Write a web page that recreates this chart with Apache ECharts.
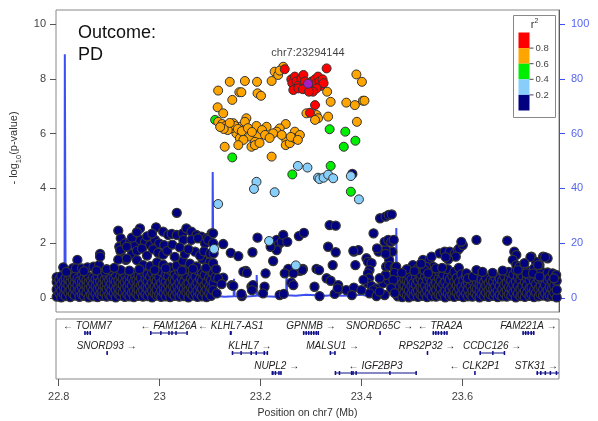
<!DOCTYPE html>
<html><head><meta charset="utf-8">
<script src="https://cdn.jsdelivr.net/npm/echarts@6/dist/echarts.min.js"></script>
<style>html,body{margin:0;padding:0;background:#fff;}#c{width:598px;height:421px;}</style>
</head><body><div id="c"></div>
<script>
// ---------- DATA ----------
const xTicks = [22.8, 23.0, 23.2, 23.4, 23.6];
const yTicks = [0, 2, 4, 6, 8, 10];
const recombTicks = [0, 20, 40, 60, 80, 100];
const r2Labels = ['0.8', '0.6', '0.4', '0.2'];
const outcomeText = 'Outcome:\nPD';
const leadName = 'chr7:23294144';
const leadSnp = [[23.294144, 7.82]];

// dense low band, columns: [position, values...]
const leftBandCols = [
[22.796,0.05,0.31,0.58,0.76],[22.801,0.18,0.44,0.69],[22.805,0.02,0.27,0.52,0.80],[22.810,0.12,0.38,0.63],
[22.814,0.07,0.33,0.55,0.74],[22.819,0.21,0.47,0.68],[22.823,0.03,0.29,0.60,0.82],[22.828,0.15,0.41,0.66],
[22.832,0.09,0.35,0.57,0.78],[22.837,0.24,0.49,0.71],[22.841,0.04,0.30,0.62],[22.846,0.13,0.39,0.59,0.85],
[22.850,0.08,0.26,0.51,0.73],[22.855,0.19,0.45,0.67],[22.859,0.02,0.34,0.56,0.79],[22.864,0.11,0.40,0.64],
[22.868,0.06,0.28,0.53,0.75],[22.873,0.17,0.43,0.70],[22.877,0.03,0.32,0.58,0.81],[22.882,0.14,0.37,0.61],
[22.886,0.08,0.25,0.50,0.77],[22.891,0.20,0.46,0.68],[22.895,0.05,0.33,0.55,0.83],[22.900,0.12,0.39,0.65],
[22.904,0.07,0.29,0.52,0.74],[22.909,0.18,0.44,0.70],[22.913,0.02,0.31,0.60,0.86],[22.918,0.15,0.36,0.63],
[22.922,0.09,0.27,0.54,0.79],[22.927,0.21,0.48,0.72],[22.931,0.04,0.34,0.58,0.88],[22.936,0.13,0.41,0.66],
[22.940,0.06,0.30,0.55,0.80],[22.945,0.19,0.45,0.71],[22.949,0.03,0.26,0.61,0.90],[22.954,0.16,0.38,0.64],
[22.958,0.08,0.33,0.57,0.83],[22.963,0.22,0.47,0.74],[22.967,0.05,0.29,0.52,0.95],[22.972,0.14,0.40,0.68],
[22.976,0.07,0.35,0.60,0.86],[22.981,0.20,0.44,0.77],[22.985,0.02,0.28,0.56,0.92],[22.990,0.17,0.42,0.69],
[22.994,0.09,0.31,0.62,0.88],[22.999,0.12,0.46,0.75],[23.003,0.04,0.27,0.54,0.97],[23.008,0.18,0.39,0.66],
[23.012,0.06,0.33,0.59,0.84],[23.017,0.21,0.48,0.79],[23.021,0.03,0.30,0.57,1.02],[23.026,0.15,0.43,0.70],
[23.030,0.08,0.36,0.63,0.89],[23.035,0.19,0.45,0.76],[23.039,0.05,0.28,0.55,0.99],[23.044,0.13,0.41,0.68],
[23.048,0.07,0.34,0.60,0.87],[23.053,0.22,0.49,0.81],[23.057,0.02,0.29,0.53,1.05],[23.062,0.16,0.38,0.72],
[23.066,0.09,0.32,0.62,0.92],[23.071,0.18,0.46,0.78],[23.075,0.04,0.27,0.56,1.01],[23.080,0.14,0.40,0.69],
[23.084,0.06,0.35,0.64,0.94],[23.089,0.20,0.47,0.83],[23.093,0.03,0.31,0.58,1.08],[23.098,0.17,0.43,0.74],
[23.102,0.08,0.37,0.65,0.96]
];
const rightBandCols = [
[23.472,0.06,0.33,0.61],[23.476,0.14,0.42,0.78],[23.481,0.03,0.25,0.52],[23.485,0.19,0.47,0.70],
[23.490,0.09,0.36,0.64],[23.494,0.02,0.28,0.57,0.83],[23.499,0.16,0.44,0.68],[23.503,0.07,0.31,0.55],
[23.508,0.21,0.49,0.76],[23.512,0.04,0.27,0.62],[23.517,0.12,0.39,0.71,0.88],[23.521,0.08,0.34,0.58],
[23.526,0.18,0.45,0.80],[23.530,0.03,0.29,0.66],[23.535,0.15,0.41,0.74],[23.539,0.06,0.37,0.60,0.92],
[23.544,0.22,0.48,0.79],[23.548,0.05,0.30,0.56],[23.553,0.13,0.43,0.72,0.98],[23.557,0.09,0.35,0.63],
[23.562,0.19,0.51,0.85],[23.566,0.02,0.26,0.59],[23.571,0.16,0.46,0.77,1.05],[23.575,0.07,0.32,0.67],
[23.580,0.11,0.40,0.81],[23.584,0.04,0.28,0.61,0.95],[23.589,0.20,0.47,0.73],[23.593,0.08,0.36,0.58,1.10],
[23.598,0.14,0.42,0.86],[23.602,0.03,0.30,0.65],[23.607,0.17,0.49,0.78],[23.611,0.06,0.33,0.56],
[23.616,0.12,0.44,0.70],[23.620,0.05,0.27,0.62],[23.625,0.18,0.39,0.75],[23.629,0.09,0.34,0.57],
[23.634,0.02,0.25,0.50,0.71],[23.638,0.15,0.43,0.68],[23.643,0.07,0.31,0.59],[23.647,0.20,0.46,0.73],
[23.652,0.04,0.29,0.54],[23.656,0.13,0.38,0.66],[23.661,0.08,0.35,0.61],[23.665,0.17,0.41,0.77],
[23.670,0.03,0.26,0.58],[23.674,0.11,0.44,0.69],[23.679,0.06,0.32,0.63],[23.683,0.19,0.48,0.80],
[23.688,0.05,0.28,0.55],[23.692,0.14,0.40,0.72,0.95],[23.697,0.09,0.36,0.64],[23.701,0.21,0.50,0.85],
[23.706,0.02,0.30,0.60,1.02],[23.710,0.16,0.45,0.76],[23.715,0.07,0.33,0.67,0.91],[23.719,0.12,0.42,0.81],
[23.724,0.04,0.27,0.58,1.05],[23.728,0.18,0.47,0.74],[23.733,0.08,0.35,0.65,0.96],[23.737,0.13,0.39,0.79],
[23.742,0.03,0.29,0.62,1.08],[23.746,0.20,0.51,0.86],[23.751,0.06,0.34,0.68],[23.755,0.15,0.43,0.77,1.00],
[23.760,0.09,0.31,0.60],[23.764,0.17,0.48,0.82],[23.769,0.05,0.28,0.66,0.93],[23.773,0.11,0.40,0.73],
[23.778,0.07,0.36,0.59],[23.782,0.19,0.45,0.80],[23.787,0.02,0.30,0.63]
];
// scattered r2 < 0.2 SNPs
const snpNavyScatter = [
[22.809,1.12],[22.828,1.09],[22.837,1.39],[22.834,1.08],[22.846,1.08],[22.857,1.12],[22.869,1.14],[22.880,1.20],
[22.882,1.61],[22.882,1.51],[22.892,0.96],[22.902,1.02],[22.918,2.46],[22.923,2.18],[22.920,1.87],[22.923,1.69],
[22.933,1.39],[22.923,1.02],[22.931,1.99],[22.941,2.05],[22.951,1.93],[22.961,2.54],[22.961,2.12],[22.971,2.05],
[22.981,1.93],[22.991,2.12],[22.993,2.58],[22.999,1.99],[23.009,1.93],[23.007,2.42],[23.017,2.30],[23.024,2.34],
[23.034,2.30],[23.034,3.11],[23.046,2.36],[23.053,2.54],[23.063,2.42],[23.073,2.30],[23.083,2.24],[23.093,2.18],
[23.103,2.36],[23.047,2.12],[23.063,2.12],[23.076,2.18],[23.090,1.99],[23.096,2.12],[23.070,1.69],
[22.922,1.75],[22.935,1.87],[22.945,1.60],[22.955,1.72],[22.965,1.80],[22.975,1.55],[22.987,1.78],[22.997,1.65],
[23.007,1.58],[23.015,1.72],[22.918,1.40],[22.935,1.44],[22.955,1.38],[22.967,1.20],[22.981,1.16],[22.995,1.30],
[23.007,1.22],[23.021,1.12],[23.034,1.18],[23.046,1.35],[23.060,1.25],[23.073,1.15],[23.085,1.42],[23.099,1.30],
[23.030,1.50],[23.050,1.60],[23.080,1.55],[23.025,1.95],[23.040,1.85],[23.057,1.78],[23.088,1.70],[23.100,1.62],
[22.975,2.25],[22.985,2.35],[22.945,2.20],[22.955,2.40],
[22.815,0.95],[22.850,0.98],[22.875,1.00],[22.895,1.05],[22.910,1.10],[22.940,1.00],[22.960,1.05],[22.990,1.02],
[23.012,1.08],[23.044,1.00],[23.066,1.06],[23.092,1.10],
[23.106,2.36],[23.106,2.00],[23.107,1.63],[23.106,1.27],[23.106,0.90],[23.107,0.54],[23.106,0.29],[23.113,0.17],
[23.110,0.75],[23.112,1.05],
[23.126,1.97],[23.141,1.65],[23.156,1.53],[23.184,1.67],[23.194,2.20],[23.225,1.35],[23.225,2.00],[23.232,2.12],
[23.235,1.93],[23.242,2.05],[23.245,2.30],[23.253,2.05],[23.232,1.75],[23.220,1.87],[23.276,2.26],[23.286,2.38],
[23.334,1.87],[23.349,1.67],[23.337,2.66],[23.349,2.64],[23.385,1.69],[23.394,1.75],[23.388,1.20],[23.343,1.20],
[23.311,1.06],[23.316,1.02],[23.255,1.06],[23.248,0.90],[23.284,1.06],[23.278,0.99],[23.210,0.90],[23.171,0.99],
[23.166,0.96],[23.126,0.74],[23.116,0.72],[23.143,0.47],[23.123,0.51],[23.182,0.41],[23.185,0.47],[23.208,0.41],
[23.238,0.11],[23.205,0.17],[23.261,0.56],[23.265,0.47],[23.307,0.41],[23.331,0.72],[23.339,0.63],[23.354,0.47],
[23.354,0.29],[23.370,0.29],[23.385,0.38],[23.347,0.15],[23.317,0.07],[23.163,0.07],[23.183,0.29],[23.146,0.44],
[23.162,0.15],[23.173,0.92],[23.246,0.15],[23.265,0.90],[23.283,1.02],[23.353,0.35],[23.381,0.11],[23.384,1.72],
[23.382,4.53],
[23.410,1.45],[23.413,1.32],[23.420,1.27],[23.416,1.02],[23.413,0.90],[23.415,0.72],[23.413,0.54],[23.420,0.44],
[23.430,0.35],[23.423,0.29],[23.416,0.17],[23.430,0.07],[23.446,0.11],[23.436,0.23],[23.443,0.54],[23.453,0.66],
[23.448,0.84],[23.436,0.72],[23.449,1.14],[23.455,1.39],[23.461,1.69],[23.448,1.75],[23.446,2.05],[23.453,2.12],
[23.459,2.05],[23.464,2.12],[23.434,1.69],[23.431,1.81],[23.424,2.36],[23.437,2.91],[23.448,2.97],[23.454,3.03],
[23.460,3.05],[23.448,1.61],[23.455,1.17],[23.466,1.12],[23.469,1.14],[23.466,0.92],[23.463,0.66],[23.459,0.36],
[23.466,0.18],[23.400,0.29],[23.404,0.66],
[23.502,1.20],[23.512,1.08],[23.522,1.39],[23.535,1.39],[23.539,1.51],[23.542,1.14],[23.548,1.08],[23.528,1.14],
[23.525,1.02],[23.532,0.90],[23.555,1.63],[23.565,1.69],[23.575,1.69],[23.585,1.63],[23.591,1.75],[23.594,1.81],
[23.601,1.93],[23.598,2.05],[23.587,1.51],[23.572,1.41],[23.567,1.49],[23.628,2.12],[23.689,2.09],[23.703,1.69],
[23.707,1.57],[23.700,1.39],[23.707,1.20],[23.713,1.14],[23.737,1.51],[23.746,1.32],[23.760,1.51],[23.769,1.45],
[23.753,1.20],[23.735,1.49],[23.764,1.49],[23.779,0.90],[23.786,0.84],[23.782,0.72],[23.608,0.90],[23.611,0.72],
[23.621,0.78],[23.628,1.02],[23.727,0.90],[23.740,0.90],[23.750,1.20],[23.753,0.78],[23.723,1.27],[23.710,1.02],
[23.490,1.05],[23.505,0.98],[23.518,1.25],[23.480,0.92],[23.560,1.10],[23.640,0.95],[23.660,0.92],[23.680,1.00]
];
const snpLightBlue = [
[23.274,4.82],[23.293,4.76],[23.192,4.24],[23.187,3.98],[23.228,3.86],[23.314,4.39],[23.317,4.34],[23.325,4.39],
[23.334,4.50],[23.344,4.37],[23.379,4.45],[23.395,3.60],[23.116,3.43],[23.108,1.79],[23.217,2.08],[23.270,1.19]
];
const snpGreen = [
[23.110,6.50],[23.144,5.13],[23.337,6.16],[23.368,6.07],[23.388,5.74],[23.365,5.52],[23.339,4.82],[23.263,4.51],[23.379,3.88]
];
const snpOrange = [
[23.245,8.44],[23.228,8.26],[23.235,8.14],[23.238,8.30],[23.139,7.89],[23.169,7.92],[23.193,7.89],[23.222,7.92],
[23.116,7.57],[23.158,7.51],[23.162,7.51],[23.194,7.47],[23.201,7.38],[23.144,7.23],[23.115,6.96],[23.126,6.74],
[23.116,6.43],[23.146,6.38],[23.159,6.25],[23.172,6.56],[23.169,6.43],[23.192,6.28],[23.212,6.25],[23.250,6.35],
[23.238,6.19],[23.232,6.07],[23.225,6.01],[23.268,6.07],[23.152,6.01],[23.159,5.83],[23.179,5.89],[23.195,5.91],
[23.189,5.70],[23.182,5.52],[23.189,5.58],[23.166,5.77],[23.156,5.58],[23.251,5.77],[23.250,5.58],[23.258,5.65],
[23.268,5.83],[23.129,5.52],[23.222,5.16],[23.278,5.95],
[23.124,6.35],[23.131,6.28],[23.137,6.24],[23.143,6.20],[23.149,6.28],[23.135,6.13],[23.127,6.17],[23.155,6.17],
[23.163,6.09],[23.120,6.24],[23.139,6.39],[23.175,6.20],[23.183,6.06],[23.203,6.13],[23.209,5.95],[23.218,5.84],
[23.198,5.66],[23.242,5.95],[23.260,5.88],[23.274,5.77],
[23.390,8.16],[23.401,7.89],[23.332,7.53],[23.339,7.16],[23.334,6.62],[23.291,6.74],[23.311,6.68],[23.314,6.56],
[23.308,6.50],[23.370,7.13],[23.387,7.04],[23.403,7.20],[23.406,7.20],[23.391,6.43]
];
const snpRed = [
[23.248,8.35],[23.331,8.38],[23.261,7.98],[23.263,7.84],[23.268,8.08],[23.271,7.90],[23.276,7.77],[23.281,8.02],
[23.285,8.14],[23.288,7.90],[23.291,7.71],[23.298,7.59],[23.301,7.90],[23.304,7.71],[23.308,7.98],[23.311,7.84],
[23.314,8.08],[23.317,7.90],[23.319,7.74],[23.323,7.98],[23.325,7.84],[23.265,7.59],[23.275,7.65],[23.284,7.62],
[23.311,7.65],[23.304,7.53],[23.296,7.53],[23.308,7.04],[23.298,6.76]
];
const recombRate = [
[22.7946,0.6],[22.800,0.5],[22.806,0.7],[22.8105,0.6],[22.8115,1.5],[22.8121,89],[22.8129,89],[22.8137,2.0],
[22.818,0.6],[22.830,0.5],[22.850,0.8],[22.870,0.6],[22.890,0.5],[22.905,0.7],[22.9165,0.9],[22.9171,8],
[22.9179,8],[22.9186,1.0],[22.930,0.6],[22.960,0.5],[22.990,0.7],[23.020,0.5],[23.050,0.6],[23.080,0.7],
[23.100,0.9],[23.1045,1.5],[23.1052,46],[23.1061,46],[23.1068,1.2],[23.115,0.6],[23.130,0.5],[23.1468,0.6],
[23.1474,7],[23.1482,7],[23.1488,0.6],[23.165,0.5],[23.180,0.6],[23.1918,0.8],[23.1924,8.4],[23.1932,8.4],
[23.1938,0.8],[23.210,0.6],[23.230,0.5],[23.2508,0.9],[23.2514,9.2],[23.2522,9.2],[23.2528,1.0],[23.270,0.8],
[23.290,1.2],[23.310,1.0],[23.330,0.8],[23.345,1.1],[23.360,0.8],[23.380,0.9],[23.4018,1.2],[23.4024,3.6],
[23.4032,3.6],[23.4038,1.0],[23.420,0.8],[23.440,1.0],[23.460,1.5],[23.4685,2.5],[23.4691,25.5],[23.4699,25.5],
[23.4706,1.0],[23.480,0.4],[23.500,0.3],[23.530,0.5],[23.560,0.4],[23.600,0.6],[23.650,0.5],[23.700,0.7],
[23.750,0.5],[23.7916,0.6]
];
// genes: [name, start, end, strand, row, exons]
const genes = [
['TOMM7',22.8505,22.8632,-1,0,[[22.8505,22.852],[22.8555,22.857],[22.861,22.8632]]],
['FAM126A',22.981,23.055,-1,0,[[22.981,22.984],[23.001,23.003],[23.017,23.019],[23.023,23.025],[23.031,23.033],[23.053,23.055]]],
['KLHL7-AS1',23.139,23.143,-1,0,[[23.139,23.143]]],
['GPNMB',23.284,23.316,1,0,[[23.284,23.287],[23.289,23.292],[23.294,23.297],[23.299,23.302],[23.304,23.307],[23.309,23.312],[23.313,23.316]]],
['SNORD65C',23.4355,23.4365,1,0,[[23.4355,23.4365]]],
['TRA2A',23.541,23.571,-1,0,[[23.541,23.544],[23.546,23.549],[23.551,23.554],[23.557,23.560],[23.563,23.566],[23.568,23.571]]],
['FAM221A',23.719,23.743,1,0,[[23.719,23.722],[23.724,23.727],[23.729,23.732],[23.735,23.738],[23.740,23.743]]],
['SNORD93',22.8945,22.8955,1,1,[[22.8945,22.8955]]],
['KLHL7',23.143,23.215,1,1,[[23.143,23.146],[23.160,23.163],[23.180,23.183],[23.190,23.193],[23.206,23.209],[23.212,23.215]]],
['MALSU1',23.337,23.349,1,1,[[23.337,23.340],[23.346,23.349]]],
['RPS2P32',23.5295,23.5305,1,1,[[23.5295,23.5305]]],
['CCDC126',23.634,23.684,1,1,[[23.634,23.636],[23.659,23.661],[23.682,23.684]]],
['NUPL2',23.222,23.242,1,2,[[23.222,23.226],[23.228,23.231],[23.235,23.238],[23.239,23.242]]],
['IGF2BP3',23.347,23.509,-1,2,[[23.347,23.350],[23.355,23.358],[23.379,23.381],[23.382,23.384],[23.388,23.390],[23.455,23.457],[23.507,23.509]]],
['CLK2P1',23.6235,23.6245,-1,2,[[23.6235,23.6245]]],
['STK31',23.747,23.830,1,2,[[23.747,23.750],[23.754,23.757],[23.763,23.766],[23.773,23.776],[23.785,23.788]]]
];

// ---------- STYLE / LAYOUT ----------
const FONT = '"Liberation Sans", Arial, Helvetica, sans-serif';
const X_MIN = 22.7946, X_MAX = 23.7916;
const BLUE = '#3c4ff0', BLUE_TXT = '#5566ee';
const COLORS = {navy:'#000080', lightblue:'#87CEFA', green:'#00EE00', orange:'#FFA500', red:'#FF0000', purple:'#A020F0'};
const GENE_COLOR = '#10108a';

const expand = cols => cols.flatMap(c => c.slice(1).map(v => [c[0], v]));
const snpNavy = expand(leftBandCols).concat(expand(rightBandCols), snpNavyScatter);

const measureCtx = document.createElement('canvas').getContext('2d');
measureCtx.font = 'italic 10px ' + FONT;

function scatter(name, data, color, z, bw) {
  return {
    name, type: 'scatter', xAxisIndex: 0, yAxisIndex: 0, data, symbolSize: 9, z,
    itemStyle: {color, borderColor: '#333', borderWidth: bw, opacity: 1},
    silent: true
  };
}

const chart = echarts.init(document.getElementById('c'), null, {renderer: 'canvas'});
const fmtX = v => String(Math.round(v * 10) / 10);

const option = {
  animation: false,
  backgroundColor: '#fff',
  textStyle: {fontFamily: FONT},
  grid: [
    {left: 56, top: 10, width: 503, height: 302, show: true, borderColor: '#888', borderWidth: 1,
     containLabel: false, outerBoundsMode: 'none'},
    {left: 56, top: 319, width: 503, height: 60, show: true, borderColor: '#888', borderWidth: 1,
     containLabel: false, outerBoundsMode: 'none'}
  ],
  xAxis: [
    {gridIndex: 0, type: 'value', min: X_MIN, max: X_MAX, show: false},
    {gridIndex: 1, type: 'value', min: X_MIN, max: X_MAX, position: 'bottom',
     axisLine: {show: false, onZero: false},
     axisTick: {show: true, length: 7, customValues: xTicks, lineStyle: {color: '#555'}},
     axisLabel: {customValues: xTicks, formatter: fmtX, fontSize: 11, color: '#444', margin: 12},
     splitLine: {show: false},
     name: 'Position on chr7 (Mb)', nameLocation: 'middle', nameGap: 29,
     nameTextStyle: {fontSize: 10.5, color: '#333'}}
  ],
  yAxis: [
    {gridIndex: 0, type: 'value', min: -0.511, max: 10.511, position: 'left',
     axisLine: {show: false, onZero: false},
     axisTick: {show: true, length: 6, customValues: yTicks, lineStyle: {color: '#555'}},
     axisLabel: {customValues: yTicks, fontSize: 11, color: '#444', margin: 10},
     splitLine: {show: false},
     name: '- log{sub|10}(p-value)', nameLocation: 'middle', nameGap: 32,
     nameTextStyle: {fontSize: 11, color: '#333', padding: [0, 0, 0, 26],
       rich: {sub: {fontSize: 7.5, color: '#333', verticalAlign: 'bottom', padding: [0, 0, -3, 0]}}}},
    {gridIndex: 0, type: 'value', min: -5.11, max: 105.11, position: 'right',
     axisLine: {show: true, onZero: false, lineStyle: {color: BLUE, width: 1}},
     axisTick: {show: true, length: 6, customValues: recombTicks, lineStyle: {color: BLUE}},
     axisLabel: {customValues: recombTicks, fontSize: 11, color: BLUE_TXT, margin: 12},
     splitLine: {show: false},
     name: 'Recombination rate (cM/Mb)', nameLocation: 'middle', nameRotate: -90, nameGap: 33,
     nameTextStyle: {fontSize: 10.5, color: BLUE_TXT}},
    {gridIndex: 1, type: 'value', min: 0, max: 3, inverse: true, show: false}
  ],
  series: [
    {name: 'recomb', type: 'line', xAxisIndex: 0, yAxisIndex: 1, data: recombRate, showSymbol: false,
     lineStyle: {color: BLUE, width: 2}, z: 1, silent: true},
    scatter('r2<0.2', snpNavy, COLORS.navy, 2, 1.3),
    scatter('0.2-0.4', snpLightBlue, COLORS.lightblue, 3, 1),
    scatter('0.4-0.6', snpGreen, COLORS.green, 4, 1),
    scatter('0.6-0.8', snpOrange, COLORS.orange, 5, 1),
    scatter('0.8-1', snpRed, COLORS.red, 6, 1),
    {name: 'lead', type: 'scatter', xAxisIndex: 0, yAxisIndex: 0, data: leadSnp, symbolSize: 9, z: 7,
     itemStyle: {color: COLORS.purple, borderColor: '#333', borderWidth: 1},
     label: {show: true, position: 'top', distance: 20, formatter: leadName, fontSize: 11, color: '#111'}},
    {name: 'genes', type: 'custom', xAxisIndex: 1, yAxisIndex: 2, clip: true,
     data: genes.map((g, i) => [g[1], g[2], g[4], i]),
     encode: {x: [0, 1], y: 2},
     renderItem: function (params, api) {
       const g = genes[api.value(3)];
       const row = g[4];
       const yLine = api.coord([g[1], row + 0.7])[1];
       const yLab = api.coord([g[1], row + 0.35])[1];
       const x1 = api.coord([g[1], 0])[0], x2 = api.coord([g[2], 0])[0];
       const children = [{type: 'rect', shape: {x: x1, y: yLine - 0.5, width: Math.max(x2 - x1, 1), height: 1},
                          style: {fill: GENE_COLOR}}];
       g[5].forEach(e => {
         const a = api.coord([e[0], 0])[0], b = api.coord([e[1], 0])[0];
         children.push({type: 'rect', shape: {x: a, y: yLine - 2, width: Math.max(b - a, 1.5), height: 4},
                        style: {fill: GENE_COLOR}});
       });
       const text = g[3] < 0 ? '\u2190 ' + g[0] : g[0] + ' \u2192';
       const w = measureCtx.measureText(text).width;
       const cs = params.coordSys;
       let cx = (x1 + x2) / 2;
       cx = Math.min(cx, cs.x + cs.width - w / 2 - 1);
       cx = Math.max(cx, cs.x + w / 2 + 1);
       children.push({type: 'text', style: {text, x: cx, y: yLab, align: 'center', verticalAlign: 'middle',
                      fontSize: 10, fontStyle: 'italic', fontFamily: FONT, fill: '#222'}});
       return {type: 'group', children};
     }}
  ],
  graphic: [
    {type: 'text', left: 78, top: 22, style: {text: outcomeText, fontSize: 18, lineHeight: 22, fill: '#111', fontFamily: FONT}},
    {type: 'group', left: 513, top: 15, children: [
      {type: 'rect', shape: {x: 0, y: 0, width: 42, height: 102}, style: {fill: '#fff', stroke: '#888', lineWidth: 1}},
      {type: 'text', x: 21, y: 9, style: {text: 'r{s|2}', align: 'center', verticalAlign: 'middle', fontSize: 11, fill: '#333', fontFamily: FONT,
        rich: {s: {fontSize: 7, verticalAlign: 'top', fill: '#333', padding: [0, 0, 6, 0]}}}},
      ...[COLORS.red, COLORS.orange, COLORS.green, COLORS.lightblue, COLORS.navy].map((c, i) => (
        {type: 'rect', shape: {x: 5, y: 17 + i * 15.6, width: 11, height: 15.6}, style: {fill: c}})),
      ...r2Labels.map((t, i) => ({type: 'line', shape: {x1: 16, y1: 32.6 + i * 15.6, x2: 20, y2: 32.6 + i * 15.6},
        style: {stroke: '#444', lineWidth: 1}})),
      ...r2Labels.map((t, i) => ({type: 'text', x: 22, y: 33 + i * 15.6,
        style: {text: t, align: 'left', verticalAlign: 'middle', fontSize: 9.5, fill: '#444', fontFamily: FONT}}))
    ]}
  ]
};
chart.setOption(option);
</script>
</body></html>
